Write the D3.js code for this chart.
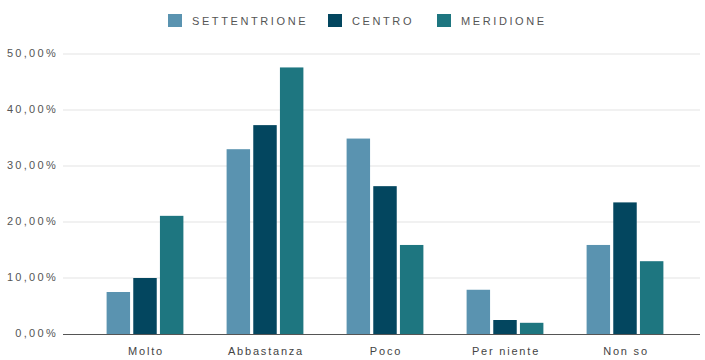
<!DOCTYPE html>
<html>
<head>
<meta charset="utf-8">
<script src="https://cdn.jsdelivr.net/npm/d3@7"></script>
<style>
  html, body { margin: 0; padding: 0; background: #fff; }
  svg { display: block; }
  text { font-family: "Liberation Sans", Arial, sans-serif; }
</style>
</head>
<body>
<svg id="chart" width="705" height="360"></svg>
<script>
// Categories and series (percent values)
const categories = ["Molto", "Abbastanza", "Poco", "Per niente", "Non so"];
const seriesNames = ["SETTENTRIONE", "CENTRO", "MERIDIONE"];
const settentrione = [7.5, 33.0, 34.9, 7.9, 15.9];
const centro = [10.0, 37.3, 26.4, 2.5, 23.5];
const meridione = [21.1, 47.6, 15.9, 2.0, 13.0];
const yTicks = [0, 10, 20, 30, 40, 50];
const colors = ["#5a93b0", "#03465f", "#1e7680"];

const seriesValues = [settentrione, centro, meridione];
const svg = d3.select("#chart");

const plot = { left: 63, right: 700, top: 54, bottom: 334 };

const x0 = d3.scaleBand().domain(categories).range([85, 685]).paddingInner(0.36).paddingOuter(0.18);
const x1 = d3.scaleBand().domain(seriesNames).range([0, x0.bandwidth()]).paddingInner(0.12);
const y = d3.scaleLinear().domain([0, 50]).range([plot.bottom, plot.top]);

const fmt = v => d3.format(".2f")(v).replace(".", ",") + "%";

// Gridlines
svg.append("g")
  .selectAll("line")
  .data(yTicks.filter(t => t > 0))
  .join("line")
  .attr("x1", plot.left).attr("x2", plot.right)
  .attr("y1", d => y(d)).attr("y2", d => y(d))
  .attr("stroke", "#e3e3e3").attr("stroke-width", 1);

// Y axis labels
svg.append("g")
  .selectAll("text")
  .data(yTicks)
  .join("text")
  .attr("x", 58).attr("y", d => y(d) + 3)
  .attr("text-anchor", "end")
  .attr("font-size", 11)
  .attr("letter-spacing", 2.3)
  .attr("fill", "#555")
  .text(fmt);

// Bars
const groups = svg.append("g")
  .selectAll("g")
  .data(categories)
  .join("g")
  .attr("transform", d => `translate(${x0(d)},0)`);

groups.selectAll("rect")
  .data((c, i) => seriesNames.map((s, j) => ({ s, j, v: seriesValues[j][i] })))
  .join("rect")
  .attr("x", d => x1(d.s))
  .attr("width", x1.bandwidth())
  .attr("y", d => y(d.v))
  .attr("height", d => y(0) - y(d.v))
  .attr("fill", d => colors[d.j]);

// Baseline
svg.append("line")
  .attr("x1", plot.left).attr("x2", plot.right)
  .attr("y1", y(0) + 0.5).attr("y2", y(0) + 0.5)
  .attr("stroke", "#555").attr("stroke-width", 1.2);

// X labels
svg.append("g")
  .selectAll("text")
  .data(categories)
  .join("text")
  .attr("x", d => x0(d) + x0.bandwidth() / 2 + 1)
  .attr("y", 355)
  .attr("text-anchor", "middle")
  .attr("font-size", 11)
  .attr("letter-spacing", 1.8)
  .attr("fill", "#444")
  .text(d => d);

// Legend
const legendX = [168, 328, 437];
const legend = svg.append("g")
  .selectAll("g")
  .data(seriesNames)
  .join("g")
  .attr("transform", (d, i) => `translate(${legendX[i]},14)`);
legend.append("rect")
  .attr("width", 14).attr("height", 13)
  .attr("fill", (d, i) => colors[i]);
legend.append("text")
  .attr("x", 24).attr("y", 11)
  .attr("font-size", 11)
  .attr("letter-spacing", 2.6)
  .attr("fill", "#555")
  .text(d => d);
</script>
</body>
</html>
